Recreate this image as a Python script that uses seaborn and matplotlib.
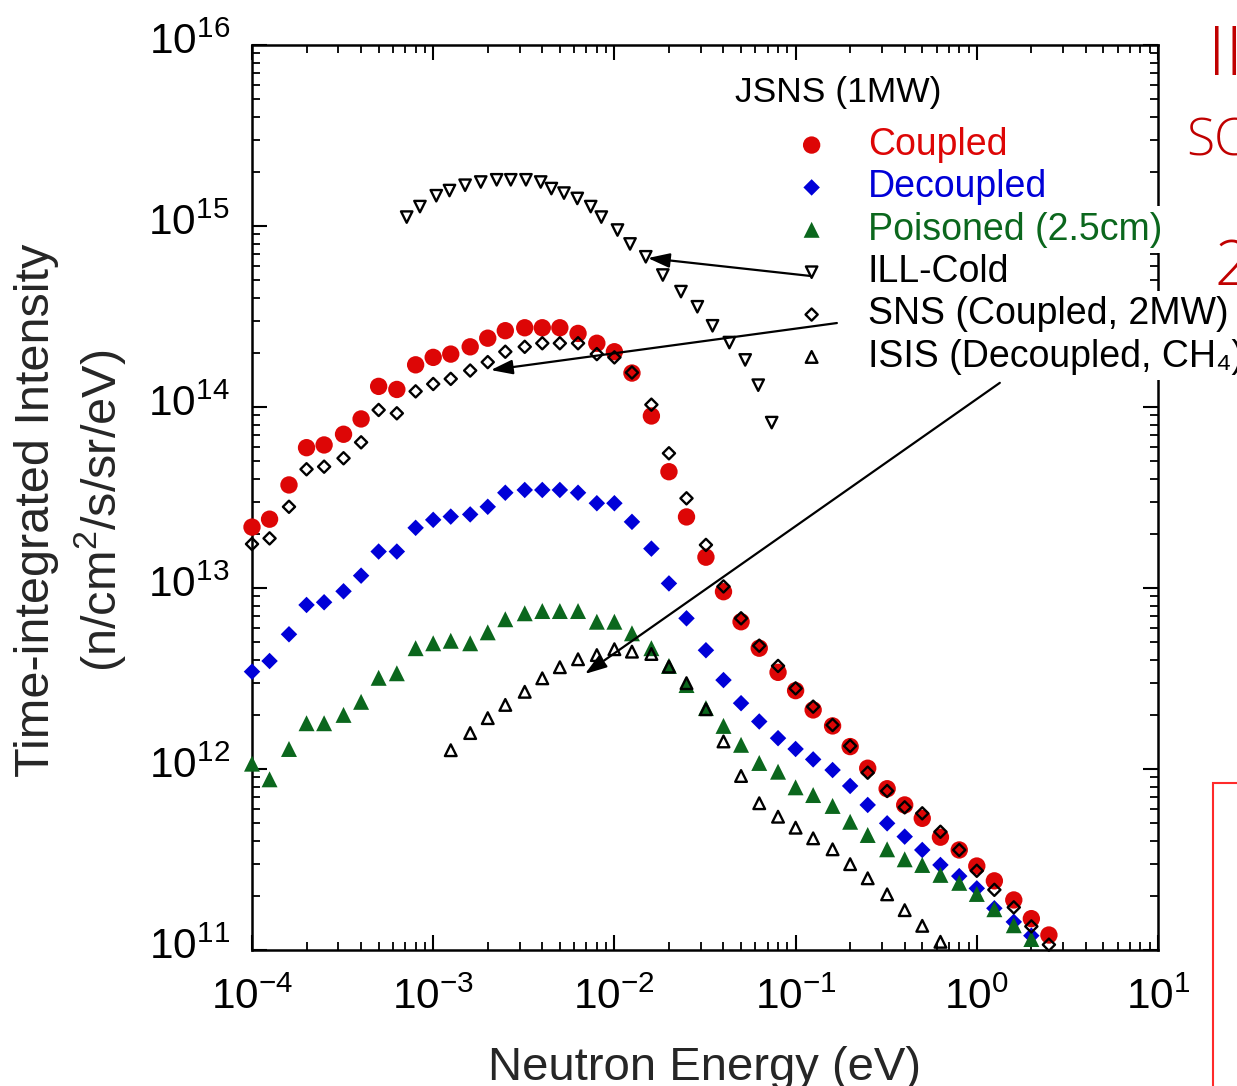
import numpy as np
import matplotlib
matplotlib.use("Agg")
import matplotlib.pyplot as plt
import seaborn as sns
from matplotlib.patches import Rectangle
from matplotlib.transforms import ScaledTranslation
from matplotlib.ticker import LogLocator, NullFormatter, LogFormatterMathtext

# ---------------- data ----------------
ENERGY = [1.0e-4, 1.25e-4, 1.6e-4, 2.0e-4, 2.5e-4, 3.2e-4, 4.0e-4, 5.0e-4, 6.3e-4, 8.0e-4,
          1.0e-3, 1.25e-3, 1.6e-3, 2.0e-3, 2.5e-3, 3.2e-3, 4.0e-3, 5.0e-3, 6.3e-3, 8.0e-3,
          1.0e-2, 1.25e-2, 1.6e-2, 2.0e-2, 2.5e-2, 3.2e-2, 4.0e-2, 5.0e-2, 6.3e-2, 8.0e-2,
          1.0e-1, 1.25e-1, 1.6e-1, 2.0e-1, 2.5e-1, 3.2e-1, 4.0e-1, 5.0e-1, 6.3e-1, 8.0e-1,
          1.0, 1.25, 1.6, 2.0, 2.5]

COUPLED = [2.17e13, 2.40e13, 3.71e13, 5.96e13, 6.17e13, 7.07e13, 8.59e13, 1.30e14, 1.25e14, 1.71e14,
           1.88e14, 1.96e14, 2.15e14, 2.40e14, 2.64e14, 2.74e14, 2.74e14, 2.74e14, 2.55e14, 2.25e14,
           2.02e14, 1.54e14, 8.92e13, 4.39e13, 2.47e13, 1.48e13, 9.54e12, 6.51e12, 4.65e12, 3.42e12,
           2.71e12, 2.12e12, 1.73e12, 1.33e12, 1.01e12, 7.78e11, 6.33e11, 5.34e11, 4.20e11, 3.57e11,
           2.91e11, 2.41e11, 1.89e11, 1.49e11, 1.21e11]

DECOUPLED = [3.45e12, 3.95e12, 5.55e12, 8.06e12, 8.34e12, 9.59e12, 1.17e13, 1.59e13, 1.59e13, 2.15e13,
             2.38e13, 2.48e13, 2.55e13, 2.81e13, 3.36e13, 3.48e13, 3.48e13, 3.48e13, 3.36e13, 2.94e13,
             2.94e13, 2.32e13, 1.65e13, 1.06e13, 6.80e12, 4.53e12, 3.10e12, 2.31e12, 1.83e12, 1.48e12,
             1.29e12, 1.13e12, 9.87e11, 8.06e11, 6.33e11, 5.01e11, 4.23e11, 3.57e11, 2.95e11, 2.56e11,
             2.19e11, 1.70e11, 1.43e11, 1.20e11]

POISONED = [1.07e12, 8.77e11, 1.29e12, 1.79e12, 1.79e12, 1.99e12, 2.35e12, 3.19e12, 3.38e12, 4.65e12,
            4.95e12, 5.11e12, 4.95e12, 5.69e12, 6.72e12, 7.25e12, 7.46e12, 7.46e12, 7.46e12, 6.51e12,
            6.51e12, 5.62e12, 4.65e12, 3.71e12, 2.91e12, 2.17e12, 1.73e12, 1.36e12, 1.08e12, 9.66e11,
            7.92e11, 7.18e11, 6.25e11, 5.11e11, 4.32e11, 3.60e11, 3.17e11, 2.95e11, 2.60e11, 2.35e11,
            2.04e11, 1.68e11, 1.37e11, 1.15e11]

SNS = [1.75e13, 1.88e13, 2.81e13, 4.53e13, 4.68e13, 5.21e13, 6.38e13, 9.63e13, 9.23e13, 1.22e14,
       1.34e14, 1.43e14, 1.59e14, 1.77e14, 2.02e14, 2.15e14, 2.25e14, 2.25e14, 2.25e14, 1.96e14,
       1.88e14, 1.55e14, 1.03e14, 5.55e13, 3.13e13, 1.73e13, 1.02e13, 6.80e12, 4.80e12, 3.71e12,
       2.79e12, 2.21e12, 1.75e12, 1.34e12, 9.54e11, 7.56e11, 6.14e11, 5.69e11, 4.50e11, 3.57e11,
       2.74e11, 2.15e11, 1.72e11, 1.35e11, 1.07e11]

ISIS_E = [1.25e-3, 1.6e-3, 2.0e-3, 2.5e-3, 3.2e-3, 4.0e-3, 5.0e-3, 6.3e-3, 8.0e-3,
          1.0e-2, 1.25e-2, 1.6e-2, 2.0e-2, 2.5e-2, 3.2e-2, 4.0e-2, 5.0e-2, 6.3e-2, 8.0e-2,
          0.1, 0.125, 0.16, 0.2, 0.25, 0.32, 0.4, 0.5, 0.63]
ISIS = [1.27e12, 1.58e12, 1.91e12, 2.26e12, 2.67e12, 3.17e12, 3.65e12, 4.04e12, 4.26e12,
        4.59e12, 4.45e12, 4.32e12, 3.68e12, 2.98e12, 2.14e12, 1.42e12, 9.15e11, 6.47e11, 5.45e11,
        4.74e11, 4.14e11, 3.60e11, 2.98e11, 2.49e11, 2.03e11, 1.66e11, 1.36e11, 1.11e11]

ILL_E = [7.14e-4, 8.45e-4, 1.04e-3, 1.23e-3, 1.50e-3, 1.83e-3, 2.24e-3, 2.68e-3, 3.25e-3, 3.92e-3,
         4.49e-3, 5.27e-3, 6.24e-3, 7.40e-3, 8.47e-3, 1.04e-2, 1.22e-2, 1.49e-2, 1.85e-2, 2.33e-2,
         2.87e-2, 3.48e-2, 4.31e-2, 5.27e-2, 6.22e-2, 7.38e-2]
ILL = [1.12e15, 1.28e15, 1.47e15, 1.57e15, 1.68e15, 1.75e15, 1.80e15, 1.80e15, 1.80e15, 1.75e15,
       1.61e15, 1.52e15, 1.42e15, 1.28e15, 1.12e15, 9.50e14, 7.96e14, 6.76e14, 5.36e14, 4.34e14,
       3.58e14, 2.81e14, 2.27e14, 1.82e14, 1.32e14, 8.20e13]

LABELS = ["Coupled", "Decoupled", "Poisoned (2.5cm)", "ILL-Cold",
          "SNS (Coupled, 2MW)", "ISIS (Decoupled, CH\u2084)"]
LEGEND_TITLE = "JSNS (1MW)"
X_LABEL = "Neutron Energy (eV)"
Y_LABEL = "Time-integrated Intensity\n(n/cm$^2$/s/sr/eV)"

RED = "#dd0606"
BLUE = "#0000d8"
GREEN = "#0b671d"
DARKRED = "#c00000"

# ---------------- style ----------------
sns.set_theme(style="ticks")
plt.rcParams["font.family"] = ["Liberation Sans", "DejaVu Sans"]
plt.rcParams["mathtext.fontset"] = "custom"
plt.rcParams["mathtext.rm"] = "Liberation Sans"
plt.rcParams["mathtext.it"] = "Liberation Sans:italic"
plt.rcParams["mathtext.bf"] = "Liberation Sans:bold"

fig = plt.figure(figsize=(12.37, 10.86), dpi=100)
ax = fig.add_axes([252 / 1237, 1 - 950 / 1086, 906 / 1237, 905 / 1086])

common = dict(ax=ax, legend=False, clip_on=False, zorder=3)
sns.scatterplot(x=ENERGY, y=COUPLED, marker="o", s=12.5 ** 2, color=RED,
                edgecolor="none", label=LABELS[0], **common)
sns.scatterplot(x=ENERGY[:len(DECOUPLED)], y=DECOUPLED, marker="D", s=8.4 ** 2, color=BLUE,
                edgecolor="none", label=LABELS[1], **common)
sns.scatterplot(x=ENERGY[:len(POISONED)], y=POISONED, marker="^", s=11.5 ** 2, color=GREEN,
                edgecolor="none", label=LABELS[2], **common)
sns.scatterplot(x=ILL_E, y=ILL, marker="v", s=8.2 ** 2, facecolor="none",
                edgecolor="black", linewidth=1.7, label=LABELS[3], **common)
sns.scatterplot(x=ENERGY, y=SNS, marker="D", s=6.2 ** 2, facecolor="none",
                edgecolor="black", linewidth=1.7, label=LABELS[4], **common)
sns.scatterplot(x=ISIS_E, y=ISIS, marker="^", s=8.4 ** 2, facecolor="none",
                edgecolor="black", linewidth=1.7, label=LABELS[5], **common)

ax.set_xscale("log")
ax.set_yscale("log")
ax.set_xlim(1e-4, 1e1)
ax.set_ylim(1e11, 1e16)
for axis in (ax.xaxis, ax.yaxis):
    axis.set_major_locator(LogLocator(base=10, numticks=20))
    axis.set_minor_locator(LogLocator(base=10, subs=np.arange(2, 10), numticks=20))
    axis.set_minor_formatter(NullFormatter())
    axis.set_major_formatter(LogFormatterMathtext())

ax.tick_params(which="both", direction="in", top=True, right=True, bottom=True, left=True,
               colors="black")
ax.tick_params(which="major", length=11, width=1.5, labelsize=30.5)
ax.tick_params(axis="x", which="major", pad=20)
ax.tick_params(axis="y", which="major", pad=16)
ax.tick_params(which="minor", length=6, width=1.3)
for sp in ax.spines.values():
    sp.set_linewidth(1.8)
    sp.set_color("black")

ax.set_xlabel(X_LABEL, fontsize=34, labelpad=20)
ax.set_ylabel(Y_LABEL, fontsize=35, linespacing=1.29)
ax.yaxis.set_label_coords(-0.137, 0.4856)

# shift y tick labels slightly upward (as in the reference)
for lab in ax.get_yticklabels():
    lab.set_transform(lab.get_transform() + ScaledTranslation(0, 5 / 72, fig.dpi_scale_trans))

# legend
handles, labels = ax.get_legend_handles_labels()
leg = ax.legend(handles, labels, loc="upper left", bbox_to_anchor=(0.597, 0.9095),
                frameon=False, fontsize=27, handlelength=1.0, handletextpad=1.0,
                labelspacing=0.17, borderpad=0, borderaxespad=0, scatterpoints=1)
leg.set_zorder(10)
for t, c in zip(leg.get_texts(), [RED, BLUE, GREEN, "black", "black", "black"]):
    t.set_color(c)
    t.set_bbox(dict(facecolor="white", edgecolor="none", pad=4))
ax.text(0.533, 0.948, LEGEND_TITLE, transform=ax.transAxes, fontsize=25.5,
        ha="left", va="center", color="black")

# arrows from legend to curves
arrow = dict(arrowstyle="-|>,head_length=0.6,head_width=0.2", color="black", lw=1.6,
             mutation_scale=22, shrinkA=0, shrinkB=0)
ax.annotate("", xy=(1.53e-2, 6.65e14), xytext=(0.120, 5.30e14), arrowprops=arrow, zorder=6)
ax.annotate("", xy=(2.08e-3, 1.60e14), xytext=(0.169, 2.91e14), arrowprops=arrow, zorder=6)
ax.annotate("", xy=(6.88e-3, 3.35e12), xytext=(1.34, 1.36e14), arrowprops=arrow, zorder=6)

# partially visible slide content on the right edge
fig.text(1208 / 1237, 1 - 75 / 1086, "II", color=DARKRED, fontsize=50,
         family=["Open Sans", "DejaVu Sans"], fontweight="light", ha="left", va="baseline")
fig.text(1186 / 1237, 1 - 155 / 1086, "SC", color=DARKRED, fontsize=37,
         family=["Open Sans", "DejaVu Sans"], fontweight="light", ha="left", va="baseline")
fig.text(1215 / 1237, 1 - 285 / 1086, "2", color=DARKRED, fontsize=45,
         family=["Open Sans", "DejaVu Sans"], fontweight="light", ha="left", va="baseline")
fig.add_artist(Rectangle((1213 / 1237, -0.1), 0.2, (1086 - 783) / 1086 + 0.1,
                         transform=fig.transFigure, fill=False, edgecolor="#ff2a2a",
                         lw=1.5, clip_on=False))

fig.savefig("out.png", dpi=100)
